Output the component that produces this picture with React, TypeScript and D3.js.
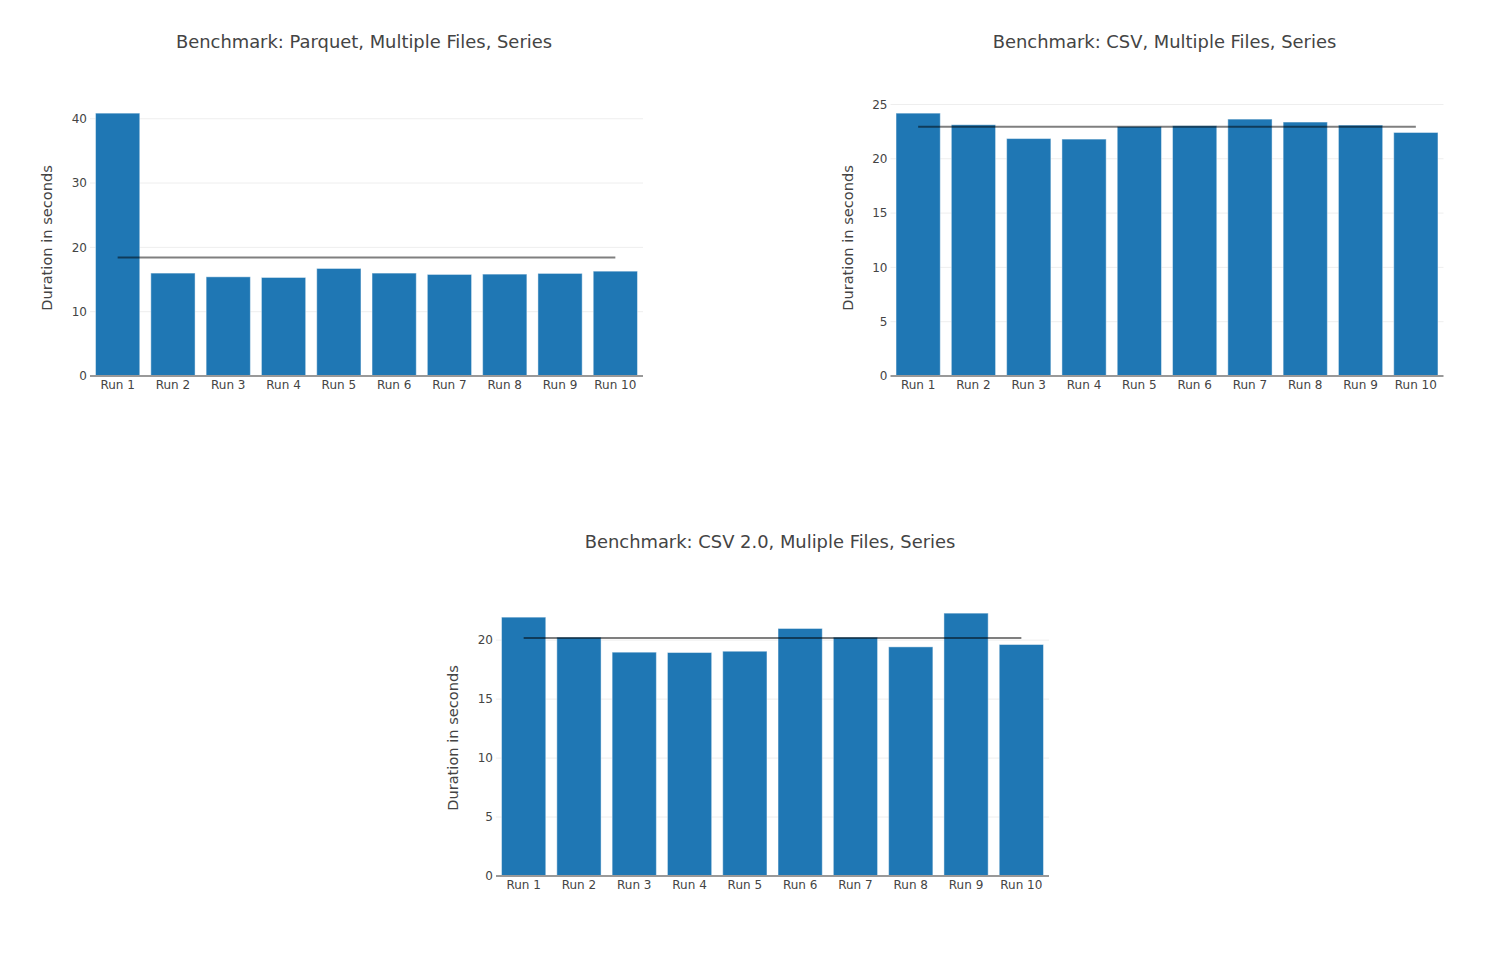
import React from "react";
import * as d3 from "d3";

const runs = ["Run 1", "Run 2", "Run 3", "Run 4", "Run 5", "Run 6", "Run 7", "Run 8", "Run 9", "Run 10"];

const parquetValues = [40.87, 16.0, 15.42, 15.32, 16.72, 16.0, 15.79, 15.84, 15.95, 16.3];
const csvValues = [24.2, 23.13, 21.86, 21.81, 22.97, 23.04, 23.65, 23.38, 23.1, 22.42];
const csv2Values = [21.95, 20.25, 18.98, 18.95, 19.06, 20.99, 20.25, 19.43, 22.29, 19.63];

const parquetTicks = [0, 10, 20, 30, 40];
const csvTicks = [0, 5, 10, 15, 20, 25];
const csv2Ticks = [0, 5, 10, 15, 20];

const titles = [
  "Benchmark: Parquet, Multiple Files, Series",
  "Benchmark: CSV, Multiple Files, Series",
  "Benchmark: CSV 2.0, Muliple Files, Series",
];

const yLabel = "Duration in seconds";
const FONT = "'DejaVu Sans', Verdana, sans-serif";

type PanelProps = {
  title: string;
  values: number[];
  ticks: number[];
  x0: number;
  x1: number;
  y0: number;
  y1: number;
  titleY: number;
  labelX: number;
};

function Panel({ title, values, ticks, x0, x1, y0, y1, titleY, labelX }: PanelProps) {
  const maxV = d3.max(values) as number;
  const x = d3.scaleBand<string>().domain(runs).range([x0, x1]).paddingInner(0.2).paddingOuter(0.1);
  const y = d3.scaleLinear().domain([0, maxV * 1.05]).range([y1, y0]);
  const mean = d3.mean(values) as number;
  const line = d3
    .line<string>()
    .x((r) => (x(r) as number) + x.bandwidth() / 2)
    .y(() => y(mean));
  const cx = (x0 + x1) / 2;
  return (
    <g>
      <text x={cx - 2.5} y={titleY} textAnchor="middle" fontSize={17.9} fill="#444" fontFamily={FONT}>
        {title}
      </text>
      {ticks.map((t) => (
        <g key={t}>
          {t !== 0 && <line x1={x0} x2={x1} y1={y(t)} y2={y(t)} stroke="#eee" strokeWidth={1} />}
          <text x={x0 - 3} y={y(t)} dy="0.36em" textAnchor="end" fontSize={12} fill="#444" fontFamily={FONT}>
            {t}
          </text>
        </g>
      ))}
      {runs.map((r, i) => (
        <rect
          key={r}
          x={x(r)}
          y={y(values[i])}
          width={x.bandwidth()}
          height={y(0) - y(values[i])}
          fill="#1f77b4"
          stroke="rgba(255,255,255,0.45)"
          strokeWidth={1}
        />
      ))}
      <path d={line(runs) as string} stroke="rgba(0,0,0,0.5)" strokeWidth={2} fill="none" />
      <line x1={x0} x2={x1} y1={y(0)} y2={y(0)} stroke="#999" strokeWidth={2} />
      {runs.map((r) => (
        <text
          key={r}
          x={(x(r) as number) + x.bandwidth() / 2}
          y={y1 + 13}
          textAnchor="middle"
          fontSize={12}
          fill="#444"
          fontFamily={FONT}
        >
          {r}
        </text>
      ))}
      <text
        transform={`translate(${labelX},${(y0 + y1) / 2}) rotate(-90)`}
        textAnchor="middle"
        dy="0.35em"
        fontSize={14.6}
        fill="#444"
        fontFamily={FONT}
      >
        {yLabel}
      </text>
    </g>
  );
}

export default function App() {
  return (
    <svg width={1509} height={969} style={{ position: "absolute", left: 0, top: 0, background: "#fff" }}>
      <rect x={0} y={0} width={1509} height={969} fill="#fff" />
      <Panel title={titles[0]} values={parquetValues} ticks={parquetTicks} x0={90} x1={643} y0={100} y1={376} titleY={48} labelX={47} />
      <Panel title={titles[1]} values={csvValues} ticks={csvTicks} x0={890.5} x1={1443.5} y0={100} y1={376} titleY={48} labelX={848} />
      <Panel title={titles[2]} values={csv2Values} ticks={csv2Ticks} x0={496} x1={1049} y0={600} y1={876} titleY={548} labelX={453} />
    </svg>
  );
}
